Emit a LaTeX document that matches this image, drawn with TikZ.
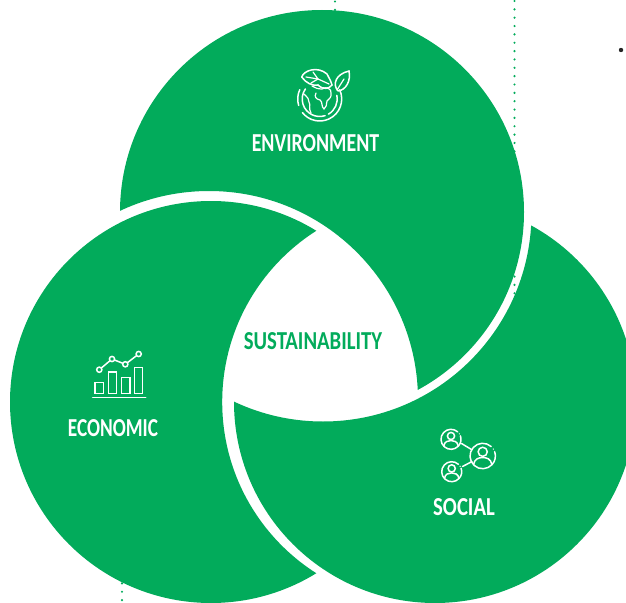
\documentclass[tikz,border=0pt]{standalone}
\usepackage{graphicx}
\usepackage{fontspec}
\setmainfont[FakeStretch=0.80]{Carlito}
\definecolor{brand}{HTML}{02AB5B}
\tikzset{
  x=1bp,y=-1bp,
  icon/.style={draw=white,line width=1.5bp,fill=none,line cap=round},
  iconthin/.style={draw=white,line width=1.2bp,fill=none,line cap=round},
  lbl/.style={font=\fontsize{26}{28}\selectfont\bfseries,text=white,inner sep=0pt,anchor=base},
  guide/.style={draw=brand,line width=2.4bp,dash pattern=on 0bp off 8.35bp,line cap=round}
}
\newcommand{\outsidedisc}[3]{\clip (-10,-10) rectangle (640,620) (#1,#2) circle[radius=#3];}
% centre x, centre y, ring radius
\newcommand{\personicon}[3]{%
  \draw[icon] (#1,#2) ++(-48:#3) arc[start angle=-48,end angle=-380,radius=#3];
  \fill[white] (#1,#2) ++(-33:#3) circle[radius=0.7];
  \draw[icon] (#1,#2-0.33*#3) circle[radius=0.36*#3];
  \draw[icon] (#1-0.72*#3,#2+0.68*#3) .. controls (#1-0.66*#3,#2+0.22*#3) and (#1-0.3*#3,#2+0.12*#3) .. (#1,#2+0.12*#3)
     .. controls (#1+0.3*#3,#2+0.12*#3) and (#1+0.66*#3,#2+0.22*#3) .. (#1+0.72*#3,#2+0.68*#3);
}
\begin{document}
\begin{tikzpicture}
\useasboundingbox (0,0) rectangle (626,603);
% dotted guides
\coordinate (gaT) at (335,1.5); \coordinate (gaB) at (335,20);
\coordinate (gbT) at (514.5,1); \coordinate (gbB) at (514.5,310);
\coordinate (gcT) at (122,575); \coordinate (gcB) at (122,603);
\draw[guide] (gaT) -- (gaB);
\draw[guide] (gbT) -- (gbB);
\draw[guide] (gcT) -- (gcB);
\fill[black!85] (621,50) circle[radius=2.2];
% three discs, cyclically overlapping
\begin{scope}[even odd rule]
  \outsidedisc{209}{400}{209}
  \fill[brand] (322,212) circle[radius=202];
\end{scope}
\begin{scope}[even odd rule]
  \outsidedisc{323}{213}{208.5}
  \fill[brand] (435,402) circle[radius=201];
\end{scope}
\begin{scope}[even odd rule]
  \outsidedisc{425}{402}{202.8}
  \fill[brand] (211,402) circle[radius=201];
\end{scope}
% labels
\node[lbl] (env) at (315.5,152) {\scalebox{0.96}[1]{ENVIRONMENT}};
\node[lbl] (eco) at (113,436) {\scalebox{0.93}[1]{ECONOMIC}};
\node[lbl] (soc) at (464,515) {SOCIAL};
\node[lbl,text=brand] (sus) at (313,349.5) {SUSTAINABILITY};
% chart icon
\draw[icon] (95,382.7) rectangle (103.3,393.3);
\draw[icon] (108.3,372) rectangle (116.7,393.3);
\draw[icon] (121.7,377.3) rectangle (130,393.3);
\draw[icon] (134.3,367.3) rectangle (142.3,393.3);
\draw[icon] (92.7,397.7) -- (145.7,397.7);
\draw[icon] (99.3,369.7) -- (112,359) -- (125.3,364.3) -- (138.7,354);
\foreach \px/\py in {99.3/369.7,112/359,125.3/364.3,138.7/354}
  \filldraw[draw=white,fill=brand,line width=1.5bp] (\px,\py) circle[radius=2.6];
% people icon
\personicon{451}{439.3}{10}
\personicon{482.7}{456}{12.7}
\personicon{451.7}{471.7}{10}
\draw[icon] (461.5,443.5) -- (471.5,449.5);
\draw[icon] (462.5,466.5) -- (472,461.5);
% globe icon: rings
\draw[icon] (319.7,99) ++(-25:22) arc[start angle=-25,end angle=142,radius=22];
\draw[icon] (319.7,99) ++(163:22) arc[start angle=163,end angle=205,radius=22];
\draw[icon] (319.7,99) ++(-12:17.5) arc[start angle=-12,end angle=60,radius=17.5];
\draw[icon] (319.7,99) ++(72:17.5) arc[start angle=72,end angle=215,radius=17.5];
% globe icon: continents
\draw[iconthin] (304,94) .. controls (308,98) and (309,99) .. (309,102) .. controls (311,105) and (308,108) .. (311,113);
\draw[iconthin] (312,86) .. controls (315,88) and (318,89) .. (322,89) .. controls (326,86) and (332,89) .. (331,93) .. controls (332,97) and (329,99) .. (327,101)
  .. controls (326,105) and (327,107) .. (324,109) .. controls (321,107) and (323,102) .. (320,100) .. controls (316,99) and (314,97) .. (316,93);
% globe icon: leaves
\draw[icon] (301.7,77) .. controls (304,70) and (318,66) .. (327,74) .. controls (329,78) and (331,81) .. (332,85);
\draw[icon] (301.7,77) .. controls (306,83) and (312,86) .. (318,85) .. controls (323,90) and (329,89) .. (332,85);
\draw[iconthin] (306,77) -- (318,79) -- (329,84);
\draw[iconthin] (313,72) -- (318,79) -- (311,83);
\draw[icon] (338,91) .. controls (332,84) and (336,74) .. (349,71) .. controls (351,81) and (346,90) .. (338,91);
\draw[iconthin] (337,90) -- (344,79);
\end{tikzpicture}
\end{document}
